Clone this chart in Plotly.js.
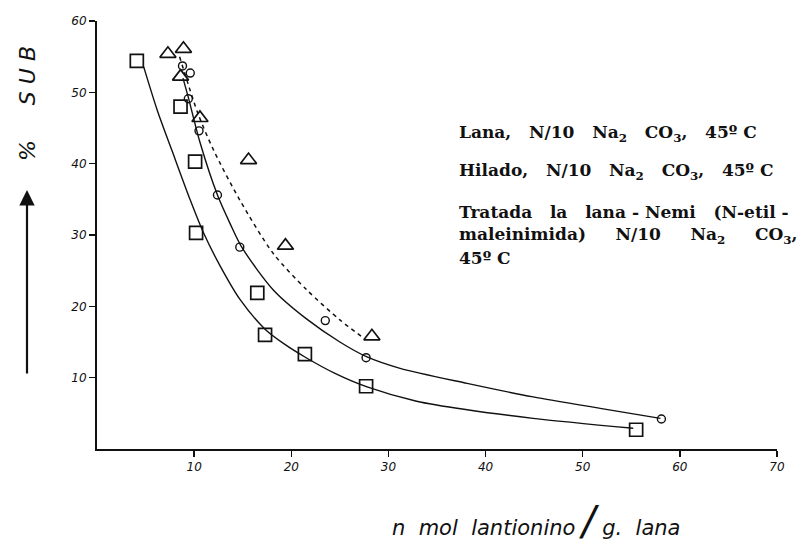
<!DOCTYPE html>
<html>
<head>
<meta charset="utf-8">
<script src="https://cdn.plot.ly/plotly-3.0.1.min.js"></script>
<style>html,body{margin:0;padding:0;background:#fff;}#chart{width:803px;height:544px;}</style>
</head>
<body>
<div id="chart"></div>
<script>
// Squares: Lana
const lanaX = [4.1, 8.6, 10.1, 10.2, 16.5, 17.3, 21.4, 27.7, 55.5];
const lanaY = [54.4, 48.0, 40.3, 30.3, 21.9, 16.0, 13.3, 8.8, 2.7];
// Circles: Hilado
const hiladoX = [8.8, 9.6, 9.4, 10.5, 12.4, 14.7, 23.5, 27.7, 58.1];
const hiladoY = [53.7, 52.7, 49.1, 44.6, 35.6, 28.3, 18.0, 12.8, 4.2];
// Triangles: Tratada (Nemi)
const nemiX = [7.3, 8.9, 8.6, 10.6, 15.6, 19.4, 28.3];
const nemiY = [55.4, 56.1, 52.2, 46.4, 40.5, 28.5, 15.8];

// Drawn curves
const lanaCurveX = [4.8, 6.2, 7.7, 9.6, 11.0, 12.7, 14.7, 17.3, 19.3, 21.4, 24.5, 27.8, 32.9, 38.1, 44.9, 55.2];
const lanaCurveY = [53.6, 47.5, 41.9, 34.9, 30.2, 25.6, 21.0, 16.8, 14.7, 12.9, 10.6, 8.7, 6.7, 5.5, 4.3, 2.9];
const hiladoCurveX = [8.85, 9.4, 10.6, 12.4, 13.7, 14.9, 18.15, 21.6, 25.0, 27.8, 31.2, 38.1, 44.9, 51.8, 58.0];
const hiladoCurveY = [52.0, 49.3, 43.0, 35.6, 31.6, 28.3, 22.3, 18.2, 15.0, 12.9, 11.3, 9.2, 7.3, 5.7, 4.3];
const nemiCurveX = [8.5, 10.4, 12.0, 14.7, 18.15, 21.6, 25.0, 27.4];
const nemiCurveY = [55.0, 47.0, 41.9, 34.9, 27.4, 22.3, 18.1, 15.6];

const xTicks = [10, 20, 30, 40, 50, 60, 70];
const yTicks = [10, 20, 30, 40, 50, 60];

const legendLines = [
  'Lana,   N/10   Na<sub>2</sub>   CO<sub>3</sub>,   45º C',
  'Hilado,   N/10   Na<sub>2</sub>   CO<sub>3</sub>,   45º C',
  'Tratada   la   lana - Nemi   (N-etil -',
  'maleinimida)     N/10     Na<sub>2</sub>     CO<sub>3</sub>,',
  '45º C'
];
const legendYpx = [133, 171, 212, 236, 258];

const figH = 544, mTop = 21, mBottom = 95, plotH = figH - mTop - mBottom;
const pyToPaper = p => (figH - mBottom - p) / plotH;

const traces = [
  {x: lanaCurveX, y: lanaCurveY, mode: 'lines', line: {color: '#111', width: 1.4, shape: 'spline', smoothing: 0.8}, hoverinfo: 'skip'},
  {x: hiladoCurveX, y: hiladoCurveY, mode: 'lines', line: {color: '#111', width: 1.4, shape: 'spline', smoothing: 0.8}, hoverinfo: 'skip'},
  {x: nemiCurveX, y: nemiCurveY, mode: 'lines', line: {color: '#111', width: 1.5, shape: 'spline', smoothing: 0.8, dash: '4px,4px'}, hoverinfo: 'skip'},
  {x: lanaX, y: lanaY, mode: 'markers', marker: {symbol: 'square-open', size: 13, color: '#111', line: {width: 1.7, color: '#111'}}},
  {x: hiladoX, y: hiladoY, mode: 'markers', marker: {symbol: 'circle-open', size: 8, color: '#111', line: {width: 1.4, color: '#111'}}},
  {x: nemiX, y: nemiY, mode: 'markers', marker: {symbol: 'triangle-up-open', size: 14, color: '#111', line: {width: 1.7, color: '#111'}}}
];

const annotations = legendLines.map((t, i) => ({
  xref: 'paper', yref: 'paper', x: (457 - 97) / 680, y: pyToPaper(legendYpx[i]),
  xanchor: 'left', yanchor: 'middle', showarrow: false, text: t,
  font: {family: 'DejaVu Serif, serif', size: 17, color: '#111', weight: 'bold'}
}));

annotations.push({
  xref: 'paper', yref: 'paper', x: (27 - 97) / 680, y: pyToPaper(104),
  textangle: -90, showarrow: false, xanchor: 'center', yanchor: 'middle',
  text: '%     S U B', font: {family: 'DejaVu Sans, sans-serif', size: 22, color: '#111', style: 'italic'}
});
annotations.push({
  xref: 'paper', yref: 'paper', x: (27 - 97) / 680, y: pyToPaper(190),
  showarrow: true, text: '', ax: 0, ay: 185, arrowhead: 2, arrowsize: 1.4, arrowwidth: 2.2, arrowcolor: '#111'
});
annotations.push({
  xref: 'paper', yref: 'paper', x: (536 - 97) / 680, y: pyToPaper(521),
  showarrow: false, xanchor: 'center', yanchor: 'middle',
  text: 'n  mol  lantionino <span style="font-size:40px">/</span> g.  lana',
  font: {family: 'DejaVu Sans, sans-serif', size: 21, color: '#111', style: 'italic'}
});

const layout = {
  width: 803, height: 544,
  margin: {l: 97, r: 26, t: mTop, b: mBottom},
  paper_bgcolor: '#fff', plot_bgcolor: '#fff',
  showlegend: false,
  xaxis: {
    range: [0, 70], tickvals: xTicks, ticktext: xTicks.map(String),
    showline: true, linecolor: '#111', linewidth: 2, ticks: 'outside', ticklen: 6, tickwidth: 1.5, tickcolor: '#111',
    showgrid: false, zeroline: false,
    tickfont: {family: 'DejaVu Sans, sans-serif', size: 12, color: '#111', style: 'italic'}
  },
  yaxis: {
    range: [0, 60], tickvals: yTicks, ticktext: yTicks.map(String),
    showline: true, linecolor: '#111', linewidth: 2, ticks: 'outside', ticklen: 6, tickwidth: 1.5, tickcolor: '#111',
    showgrid: false, zeroline: false,
    tickfont: {family: 'DejaVu Sans, sans-serif', size: 12, color: '#111', style: 'italic'}
  },
  annotations: annotations
};

Plotly.newPlot('chart', traces, layout, {displayModeBar: false, staticPlot: true});
</script>
</body>
</html>
